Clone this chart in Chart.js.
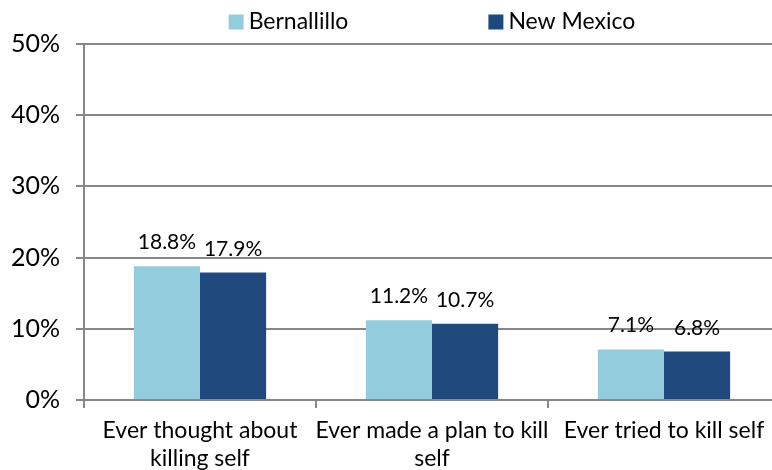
<!DOCTYPE html>
<html>
<head>
<meta charset="utf-8">
<script src="https://cdn.jsdelivr.net/npm/chart.js@4/dist/chart.umd.min.js"></script>
<style>
  html, body { margin: 0; padding: 0; background: #fff; overflow: hidden; }
  #wrap { width: 780px; height: 470px; }
</style>
</head>
<body>
<div id="wrap"><canvas id="chart"></canvas></div>
<script>
const categories = [
    ['Ever thought about', 'killing self'],
    ['Ever made a plan to kill', 'self'],
    ['Ever tried to kill self']
];
const bernallillo = [18.8, 11.2, 7.1];
const newMexico = [17.9, 10.7, 6.8];
const yTicks = [0, 10, 20, 30, 40, 50];

const FONT = 'Lato, "Open Sans", sans-serif';
const GRID = '#878787';

// legend drawn by hand: two entries with a wide gap, centred over the plot
const topLegend = {
    id: 'topLegend',
    afterDraw(chart) {
        const ctx = chart.ctx;
        const area = chart.chartArea;
        const box = 15, gap = 5, between = 140;
        ctx.save();
        ctx.font = '23px ' + FONT;
        ctx.textBaseline = 'middle';
        const items = chart.data.datasets.map(ds => ({
            label: ds.label,
            color: ds.backgroundColor,
            w: box + gap + ctx.measureText(ds.label).width
        }));
        const total = items.reduce((s, it) => s + it.w, 0) + between * (items.length - 1);
        let x = (area.left + area.right) / 2 - total / 2;
        const y = 22;
        items.forEach(it => {
            ctx.fillStyle = it.color;
            ctx.fillRect(x, y - box / 2, box, box);
            ctx.fillStyle = '#000';
            ctx.textAlign = 'left';
            ctx.fillText(it.label, x + box + gap, y);
            x += it.w + between;
        });
        ctx.restore();
    }
};

// value labels above each bar
const barLabels = {
    id: 'barLabels',
    afterDatasetsDraw(chart) {
        const ctx = chart.ctx;
        ctx.save();
        ctx.font = '21px ' + FONT;
        ctx.fillStyle = '#000';
        ctx.textAlign = 'center';
        ctx.textBaseline = 'alphabetic';
        chart.data.datasets.forEach((ds, i) => {
            chart.getDatasetMeta(i).data.forEach((bar, j) => {
                ctx.fillText(ds.data[j].toFixed(1) + '%', bar.x, bar.y - 17);
            });
        });
        ctx.restore();
    }
};

new Chart(document.getElementById('chart'), {
    type: 'bar',
    data: {
        labels: categories,
        datasets: [
            {
                label: 'Bernallillo',
                data: bernallillo,
                backgroundColor: '#93CDDD',
                categoryPercentage: 0.57,
                barPercentage: 1
            },
            {
                label: 'New Mexico',
                data: newMexico,
                backgroundColor: '#1F497D',
                categoryPercentage: 0.57,
                barPercentage: 1
            }
        ]
    },
    options: {
        responsive: true,
        maintainAspectRatio: false,
        animation: false,
        layout: { padding: { top: 44 } },
        plugins: {
            legend: { display: false },
            tooltip: { enabled: false }
        },
        scales: {
            x: {
                grid: {
                    offset: true,
                    drawOnChartArea: false,
                    tickLength: 8,
                    color: GRID,
                    lineWidth: 2
                },
                border: { color: GRID, width: 2 },
                ticks: {
                    color: '#000',
                    font: { family: FONT, size: 23, lineHeight: 1.2 },
                    maxRotation: 0,
                    autoSkip: false,
                    padding: 9
                },
                afterFit(scale) { scale.height = 70; }
            },
            y: {
                min: 0,
                max: 50,
                afterBuildTicks(scale) {
                    scale.ticks = yTicks.map(v => ({ value: v }));
                },
                grid: {
                    color: GRID,
                    lineWidth: 2,
                    tickLength: 8
                },
                border: { color: GRID, width: 2 },
                ticks: {
                    color: '#000',
                    font: { family: FONT, size: 25 },
                    padding: 16,
                    callback: v => v + '%'
                },
                afterFit(scale) { scale.width = 84; }
            }
        }
    },
    plugins: [topLegend, barLabels]
});
</script>
</body>
</html>
